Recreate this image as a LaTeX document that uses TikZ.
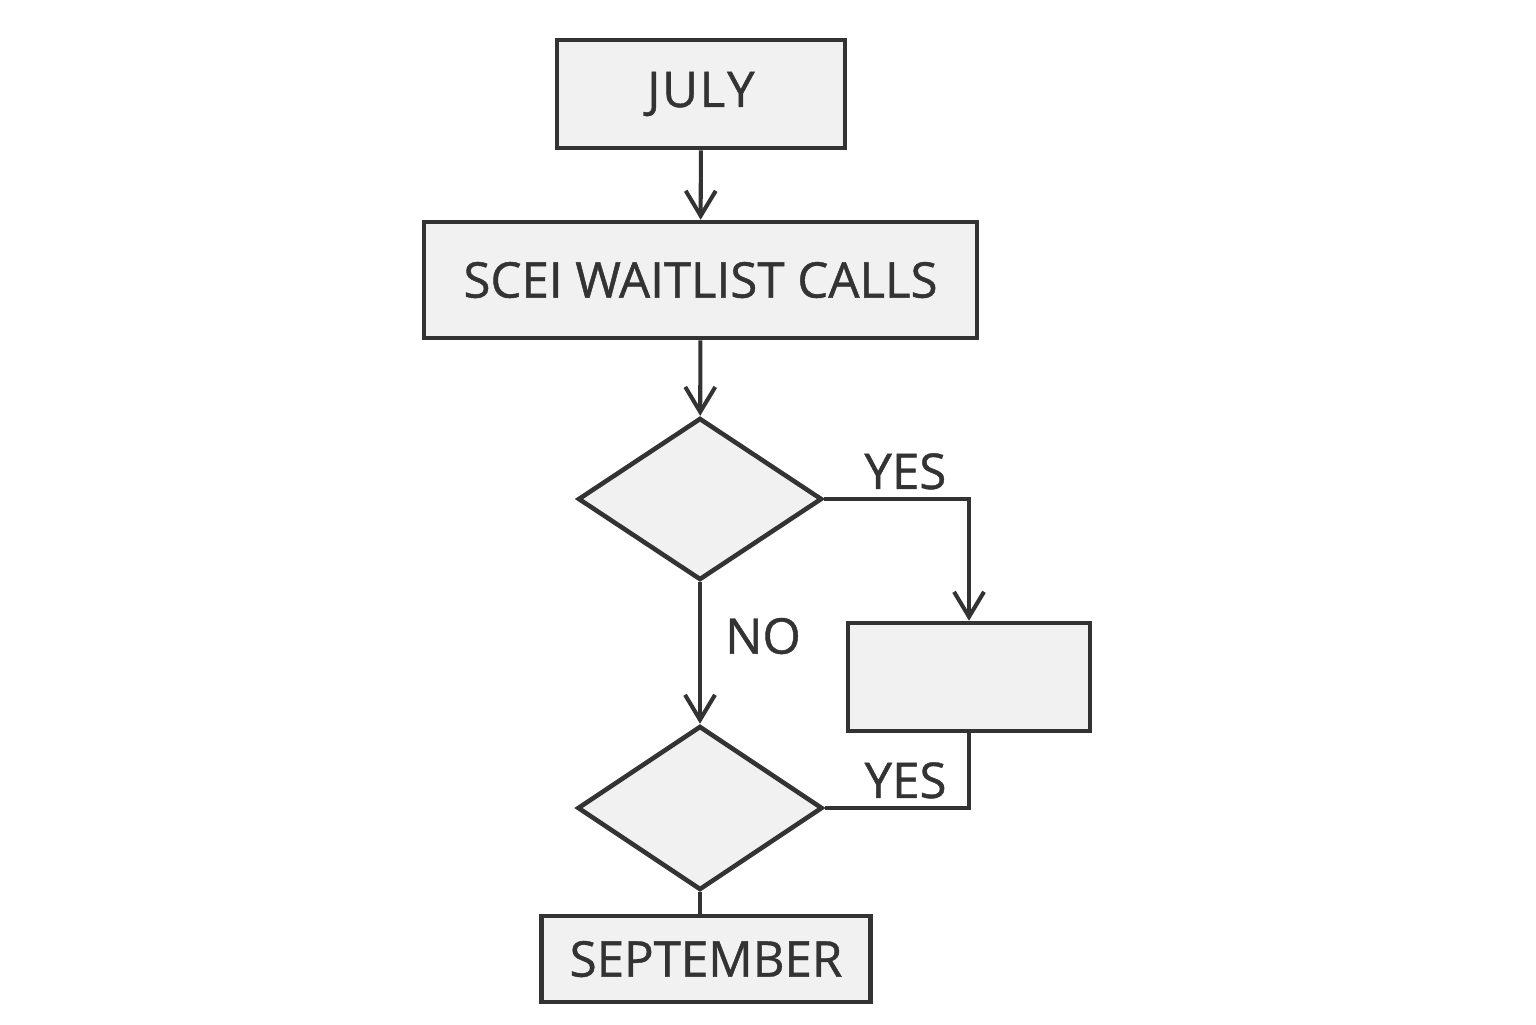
\documentclass[tikz,border=0pt]{standalone}
\usepackage{fontspec}
\setmainfont{Open Sans}
\newfontfamily\tagfont{Open Sans}[FakeBold=0.9]
\usetikzlibrary{positioning,shapes.geometric,arrows.meta}
\definecolor{inkgray}{HTML}{333333}
\definecolor{boxgray}{HTML}{F1F1F1}
\begin{document}
\begin{tikzpicture}[
    stepbox/.style = {draw = inkgray, fill = boxgray, line width = 2.6pt, inner sep = 0pt},
    choice/.style = {draw = inkgray, fill = boxgray, diamond, line width = 2.6pt, inner sep = 0pt},
    link/.style = {draw = inkgray, line width = 2.3pt},
    flow/.style = {link, -{Straight Barb[length = 5mm, width = 6mm, line width = 2.3pt]}},
    tag/.style = {text = inkgray, font = \tagfont\fontsize{28}{31}\selectfont}
    ]
        \useasboundingbox (0, 0) rectangle (30.72, -20.48);

        % Nodes
        \node [stepbox, minimum width = 5.76cm, minimum height = 2.16cm, tag] (july) at (14.02, -1.88) {J\kern1pt U\kern1pt L\kern1pt Y};
        \node [stepbox, minimum width = 11.06cm, minimum height = 2.32cm, tag] (calls) at (14.01, -5.6) {SCEI WAITLIST CALLS};
        \node [choice, minimum width = 4.88cm, minimum height = 3.24cm] (check1) at (14, -9.98) {};
        \node [stepbox, minimum width = 4.84cm, minimum height = 2.16cm] (offer) at (19.38, -13.54) {};
        \node [choice, minimum width = 4.9cm, minimum height = 3.28cm] (check2) at (14, -16.16) {};
        \node [stepbox, minimum width = 6.58cm, minimum height = 1.72cm, tag] (september) at (14.12, -19.18) {SEPTEMBER};

        % Edges Direction
        \draw [flow] (july) -- (calls);
        \draw [flow] (calls) -- (check1);
        \draw [flow] (check1.east) -| node (yes1) [tag, pos = 0.28, above = 1pt] {YES} (offer.north);
        \draw [flow] (check1.south) -- node (no1) [tag, pos = 0.38, right = 0.35cm] {NO} (check2.north);
        \draw [link] (offer.south) |- node (yes2) [tag, pos = 0.72, above = 1pt] {YES} (check2.east);
        \draw [link] (check2.south) -- (check2.south |- september.north);

    \end{tikzpicture}
\end{document}
